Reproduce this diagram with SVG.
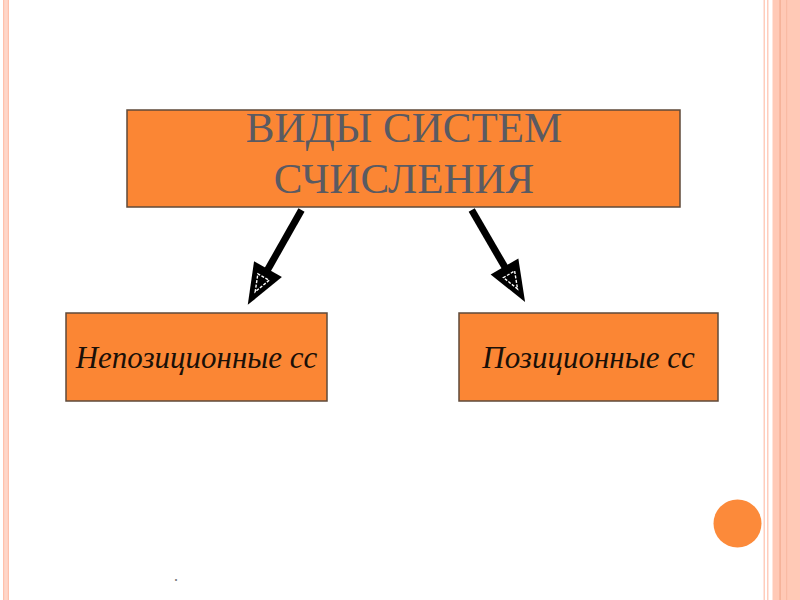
<svg xmlns="http://www.w3.org/2000/svg" width="800" height="600" viewBox="0 0 800 600">
<style>
.box{fill:#FB8634;stroke:#5f4a3a;stroke-width:1.5}
.title{font-family:"Liberation Serif",serif;font-size:43px;fill:#5a5a62;text-anchor:middle}
.lbl{font-family:"Liberation Serif",serif;font-style:italic;font-size:31px;fill:#1a1008;text-anchor:middle}
.conn{stroke:#000;stroke-width:7;fill:none}
</style>
<defs>
<marker id="head" markerUnits="userSpaceOnUse" viewBox="-2 -18 46 36" refX="0" refY="0" markerWidth="46" markerHeight="36" orient="auto" overflow="visible">
<path d="M-3,-16 L38,0 L-3,16 Z" fill="#000"/>
<path d="M6,-6.5 L23,0 L6,6.5 Z" fill="#000" stroke="#fff" stroke-width="1.4" stroke-dasharray="3 1.5"/>
</marker>
</defs>
<rect width="800" height="600" fill="#fff"/>
<g id="border">
<rect x="3" y="0" width="6" height="600" fill="#FFD6C9"/>
<rect x="3" y="0" width="1.2" height="600" fill="#FFC0AB"/>
<rect x="7.8" y="0" width="1.2" height="600" fill="#FFC0AB"/>
<rect x="763.5" y="0" width="1.5" height="600" fill="#FFCDBD"/>
<rect x="767" y="0" width="1.5" height="600" fill="#FFCDBD"/>
<rect x="772.5" y="0" width="27.5" height="600" fill="#FFC9B6"/>
<rect x="779.3" y="0" width="1.6" height="600" fill="#F5B197"/>
<rect x="786" y="0" width="1.2" height="600" fill="#F9BBA4"/>
<circle cx="737.5" cy="523.5" r="24" fill="#FC8A3A"/>
</g>
<g id="n-root">
<rect class="box" x="127" y="110" width="553" height="97"/>
<text class="title" x="404" y="142">ВИДЫ СИСТЕМ</text>
<text class="title" x="404" y="193">СЧИСЛЕНИЯ</text>
</g>
<g id="n-nonpos">
<rect class="box" x="66" y="313" width="261" height="88"/>
<text class="lbl" x="196.5" y="368">Непозиционные сс</text>
</g>
<g id="n-pos">
<rect class="box" x="459" y="313" width="259" height="88"/>
<text class="lbl" x="588.5" y="368">Позиционные сс</text>
</g>
<g id="connectors">
<line class="conn" x1="301.5" y1="210" x2="266.5" y2="271.8" marker-end="url(#head)"/>
<line class="conn" x1="471.7" y1="210" x2="506" y2="269.1" marker-end="url(#head)"/>
</g>
<text x="176" y="581" font-family="Liberation Sans,sans-serif" font-size="18" fill="#808080" text-anchor="middle">.</text>
</svg>
